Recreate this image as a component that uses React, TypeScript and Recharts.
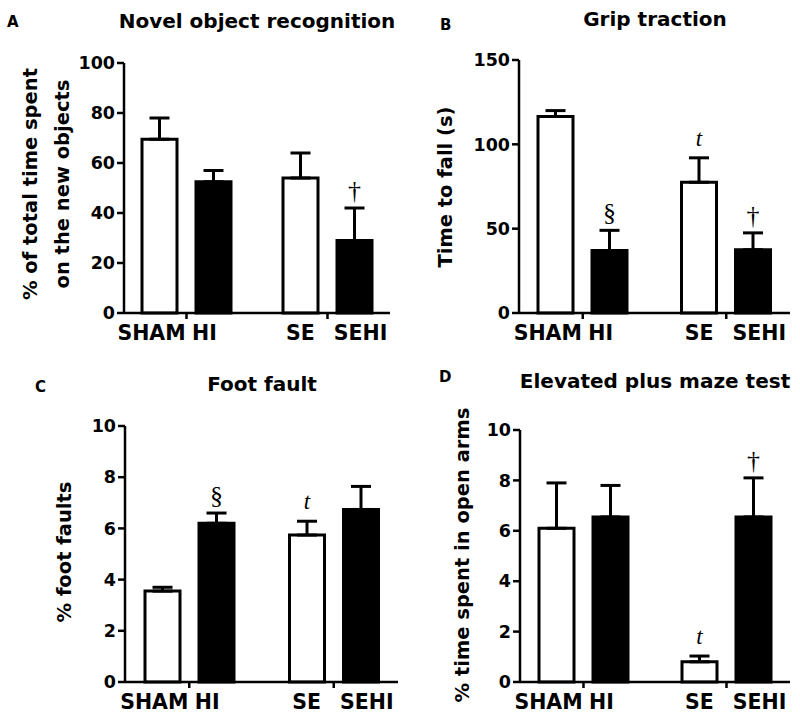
import React from "react";
import { BarChart, Bar, XAxis, YAxis, ErrorBar, LabelList } from "recharts";

// ---------- data ----------
const categories = ["SHAM", "HI", "SE", "SEHI"];
const groupNames = ["SHAM HI", "SE SEHI"];

const novelMean = [69.5, 52.5, 54, 29];
const novelSem = [8.5, 4.5, 10, 13];
const novelMarks = ["", "", "", "†"];
const novelTicks = [0, 20, 40, 60, 80, 100];

const gripMean = [116.5, 37, 77.5, 37.5];
const gripSem = [3.5, 12, 14.5, 10];
const gripMarks = ["", "§", "t", "†"];
const gripTicks = [0, 50, 100, 150];

const footMean = [3.55, 6.2, 5.74, 6.74];
const footSem = [0.15, 0.4, 0.54, 0.9];
const footMarks = ["", "§", "t", ""];
const footTicks = [0, 2, 4, 6, 8, 10];

const mazeMean = [6.1, 6.55, 0.8, 6.55];
const mazeSem = [1.8, 1.25, 0.23, 1.55];
const mazeMarks = ["", "", "t", "†"];
const mazeTicks = [0, 2, 4, 6, 8, 10];

// ---------- helpers ----------
type Row = {
  group: string;
  ctrl: number;
  hi: number;
  ctrlErr: number[];
  hiErr: number[];
  ctrlSem: number;
  hiSem: number;
  ctrlMark: string;
  hiMark: string;
};

function buildRows(mean: number[], sem: number[], marks: string[]): Row[] {
  return groupNames.map((g, i) => ({
    group: g,
    ctrl: mean[2 * i],
    hi: mean[2 * i + 1],
    ctrlErr: [0, sem[2 * i]],
    hiErr: [0, sem[2 * i + 1]],
    ctrlSem: sem[2 * i],
    hiSem: sem[2 * i + 1],
    ctrlMark: marks[2 * i],
    hiMark: marks[2 * i + 1],
  }));
}

const SANS = "DejaVu Sans";
const SERIF = "Liberation Serif";
const labelOffsets = [
  [-35, 18],
  [-27, 33],
];

const XTick = (props: any) => {
  const { x, y, payload } = props;
  let gi = payload && typeof payload.index === "number" ? payload.index : groupNames.indexOf(payload?.value);
  if (gi < 0) gi = 0;
  const a = categories[2 * gi];
  const b = categories[2 * gi + 1];
  const [da, db] = labelOffsets[gi];
  const style = { fontFamily: SANS, fontWeight: "bold" as const, fontSize: 20.5 };
  return (
    <g>
      <text x={x + da} y={y + 19} textAnchor="middle" fill="#000" style={style}>
        {a}
      </text>
      <text x={x + db} y={y + 19} textAnchor="middle" fill="#000" style={style}>
        {b}
      </text>
    </g>
  );
};

const makeMark = (rows: Row[], key: "ctrl" | "hi") => (props: any) => {
  const { value, index } = props;
  if (!value) return null;
  const vb = props.viewBox || {};
  const x = typeof vb.x === "number" ? vb.x : props.x;
  const y = typeof vb.y === "number" ? vb.y : props.y;
  const width = typeof vb.width === "number" ? vb.width : props.width;
  const height = Math.abs(typeof vb.height === "number" ? vb.height : props.height);
  const row = rows[index ?? 0];
  const v = key === "ctrl" ? row.ctrl : row.hi;
  const s = key === "ctrl" ? row.ctrlSem : row.hiSem;
  const capY = y - (s * height) / v;
  const isT = value === "t";
  return (
    <text
      x={x + width / 2}
      y={capY - (isT ? 12 : 9)}
      textAnchor="middle"
      fill="#000"
      style={{ fontFamily: SERIF, fontSize: isT ? 23 : 26, fontStyle: isT ? "italic" : "normal" }}
    >
      {value}
    </text>
  );
};

type PanelProps = {
  left: number;
  top: number;
  height: number;
  plotLeft: number;
  plotTop: number;
  plotRight: number;
  xAxisHeight: number;
  mean: number[];
  sem: number[];
  marks: string[];
  ticks: number[];
};

const Panel = (p: PanelProps) => {
  const rows = buildRows(p.mean, p.sem, p.marks);
  const yMax = p.ticks[p.ticks.length - 1];
  const lineStyle = { stroke: "#000", strokeWidth: 2.5 };
  return (
    <div style={{ position: "absolute", left: p.left, top: p.top }}>
      <BarChart
        width={400}
        height={p.height}
        data={rows}
        barGap={19}
        margin={{ top: p.plotTop, right: 400 - p.plotRight, left: p.plotLeft - 60, bottom: 0 }}
      >
        <XAxis
          dataKey="group"
          type="category"
          padding={{ left: -8, right: -8 }}
          height={p.xAxisHeight}
          tickSize={6}
          tickMargin={2}
          interval={0}
          axisLine={lineStyle}
          tickLine={lineStyle}
          tick={<XTick />}
        />
        <YAxis
          type="number"
          domain={[0, yMax]}
          ticks={p.ticks}
          interval={0}
          width={60}
          tickSize={7}
          tickMargin={2}
          axisLine={lineStyle}
          tickLine={lineStyle}
          tick={{ fill: "#000", fontSize: 17.5, fontWeight: "bold", fontFamily: SANS }}
        />
        <Bar dataKey="ctrl" fill="#fff" stroke="#000" strokeWidth={3} barSize={35} isAnimationActive={false}>
          <ErrorBar dataKey="ctrlErr" direction="y" width={10} stroke="#000" strokeWidth={3} />
          <LabelList dataKey="ctrlMark" content={makeMark(rows, "ctrl")} />
        </Bar>
        <Bar dataKey="hi" fill="#000" stroke="#000" strokeWidth={3} barSize={35} isAnimationActive={false}>
          <ErrorBar dataKey="hiErr" direction="y" width={10} stroke="#000" strokeWidth={3} />
          <LabelList dataKey="hiMark" content={makeMark(rows, "hi")} />
        </Bar>
      </BarChart>
    </div>
  );
};

export default function App() {
  const bold = { fontFamily: SANS, fontWeight: "bold" as const };
  return (
    <div style={{ position: "absolute", left: 0, top: 0, width: 800, height: 719, background: "#fff" }}>
      <Panel left={0} top={0} height={355} plotLeft={124} plotTop={63} plotRight={390} xAxisHeight={42}
        mean={novelMean} sem={novelSem} marks={novelMarks} ticks={novelTicks} />
      <Panel left={400} top={0} height={355} plotLeft={119} plotTop={60} plotRight={390} xAxisHeight={42}
        mean={gripMean} sem={gripSem} marks={gripMarks} ticks={gripTicks} />
      <Panel left={0} top={355} height={364} plotLeft={125} plotTop={71} plotRight={398} xAxisHeight={37}
        mean={footMean} sem={footSem} marks={footMarks} ticks={footTicks} />
      <Panel left={400} top={355} height={364} plotLeft={120} plotTop={75} plotRight={390} xAxisHeight={37}
        mean={mazeMean} sem={mazeSem} marks={mazeMarks} ticks={mazeTicks} />
      <svg width={800} height={719} style={{ position: "absolute", left: 0, top: 0, pointerEvents: "none" }}>
        <g style={bold} fill="#000">
          <text x={7} y={27} fontSize={15}>A</text>
          <text x={440} y={30} fontSize={15}>B</text>
          <text x={35} y={392} fontSize={15}>C</text>
          <text x={439} y={382} fontSize={15}>D</text>
          <text x={257} y={28} fontSize={20} textAnchor="middle">Novel object recognition</text>
          <text x={655} y={26} fontSize={20} textAnchor="middle">Grip traction</text>
          <text x={262} y={391} fontSize={20} textAnchor="middle">Foot fault</text>
          <text x={655} y={388} fontSize={20} textAnchor="middle">Elevated plus maze test</text>
          <text x={37} y={184} fontSize={19.5} textAnchor="middle" transform="rotate(-90 37 184)">% of total time spent</text>
          <text x={69} y={184} fontSize={19.5} textAnchor="middle" transform="rotate(-90 69 184)">on the new objects</text>
          <text x={452} y={187} fontSize={19.5} textAnchor="middle" transform="rotate(-90 452 187)">Time to fall (s)</text>
          <text x={71} y={552} fontSize={19.5} textAnchor="middle" transform="rotate(-90 71 552)">% foot faults</text>
          <text x={469} y={555} fontSize={19.5} textAnchor="middle" transform="rotate(-90 469 555)">% time spent in open arms</text>
        </g>
      </svg>
    </div>
  );
}
